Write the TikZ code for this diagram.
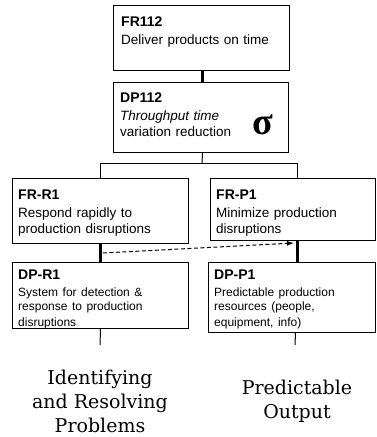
\documentclass[tikz,border=0pt]{standalone}
\usepackage{fontspec}
\setmainfont{Liberation Sans}
\newfontfamily\labelserif{DejaVu Serif}
\newfontfamily\sigmafont{Liberation Serif}
\usetikzlibrary{arrows.meta,calc}
\newcommand\boxlabelfont{\fontsize{14}{16.5}\selectfont\bfseries}
\newcommand\smallboxfont{\fontsize{12}{13.5}\selectfont}
\begin{document}
\begin{tikzpicture}[x=1pt,y=-1pt,
  box/.style={draw, line width=1pt, anchor=north west, inner sep=0pt},
  txt/.style={anchor=north west, inner sep=0pt, text width=168pt, align=left,
              font=\fontsize{13.5}{16.5}\selectfont},
  thin/.style={line width=1pt},
  thick link/.style={line width=3.5pt},
  bigtext/.style={align=center, font=\labelserif\fontsize{19}{24}\selectfont}]
\useasboundingbox (0,0) rectangle (376,437);

% boxes
\node[box, minimum width=176pt, minimum height=65pt] (FR112) at (113,5) {};
\node[box, minimum width=175pt, minimum height=70pt] (DP112) at (113,82) {};
\node[box, minimum width=176pt, minimum height=65pt] (FRR1) at (12,178) {};
\node[box, minimum width=165pt, minimum height=62pt] (FRP1) at (210,178) {};
\node[box, minimum width=176pt, minimum height=66pt] (DPR1) at (12,262) {};
\node[box, minimum width=167pt, minimum height=70pt] (DPP1) at (208,262) {};

% texts
\node[txt] (FR112t) at ($(FR112.north west)+(8,12)$)
  {{\boxlabelfont FR112}\\[1pt]Deliver products on time};
\node[txt] (DP112t) at ($(DP112.north west)+(7,11)$)
  {{\boxlabelfont DP112}\\[1pt]\textit{Throughput time}\\variation reduction};
\node[font=\sigmafont\bfseries\fontsize{38}{38}\selectfont, inner sep=0pt] (sig) at (263,125) {σ};
\node[txt] (FRRt) at ($(FRR1.north west)+(6,12)$)
  {{\boxlabelfont FR-R1}\\[1pt]Respond rapidly to\\production disruptions};
\node[txt] (FRPt) at ($(FRP1.north west)+(6,12)$)
  {{\boxlabelfont FR-P1}\\[1pt]Minimize production\\disruptions};
\node[txt] (DPRt) at ($(DPR1.north west)+(6,8)$)
  {{\boxlabelfont DP-R1}\\[3.5pt]\smallboxfont System for detection \&\\response to production\\disruptions};
\node[txt] (DPPt) at ($(DPP1.north west)+(6,8)$)
  {{\boxlabelfont DP-P1}\\[3.5pt]\smallboxfont Predictable production\\resources (people,\\equipment, info)};

\node[bigtext] (idr) at (100,401) {Identifying\\and Resolving\\Problems};
\node[bigtext] (po) at (297,401) {Predictable\\Output};

% connectors
\draw[thick link] ([xshift=1pt]FR112.south) -- ([xshift=1.5pt]DP112.north);
\coordinate (bus) at (202,163);
\draw[thin] ([xshift=1.5pt]DP112.south) -- (bus);
\draw[thin] (FRR1.north) |- (bus);
\draw[thin] ([xshift=4.5pt]FRP1.north) |- (bus);
\draw[thick link] (FRR1.south) -- (DPR1.north);
\draw[thick link] ([xshift=4.5pt]FRP1.south) -- ([xshift=5.5pt]DPP1.north);
\coordinate (dstart) at (103,253);
\coordinate (dend) at (294,243);
\draw[thin, dash pattern=on 4pt off 2.5pt, -{Latex[length=7pt,width=5pt]}] (dstart) -- (dend);
\coordinate (endR) at (100,345);
\coordinate (endP) at (295,345);
\draw[thin] (DPR1.south) -- (endR);
\draw[thin] ([xshift=3.5pt]DPP1.south) -- (endP);
\end{tikzpicture}
\end{document}
